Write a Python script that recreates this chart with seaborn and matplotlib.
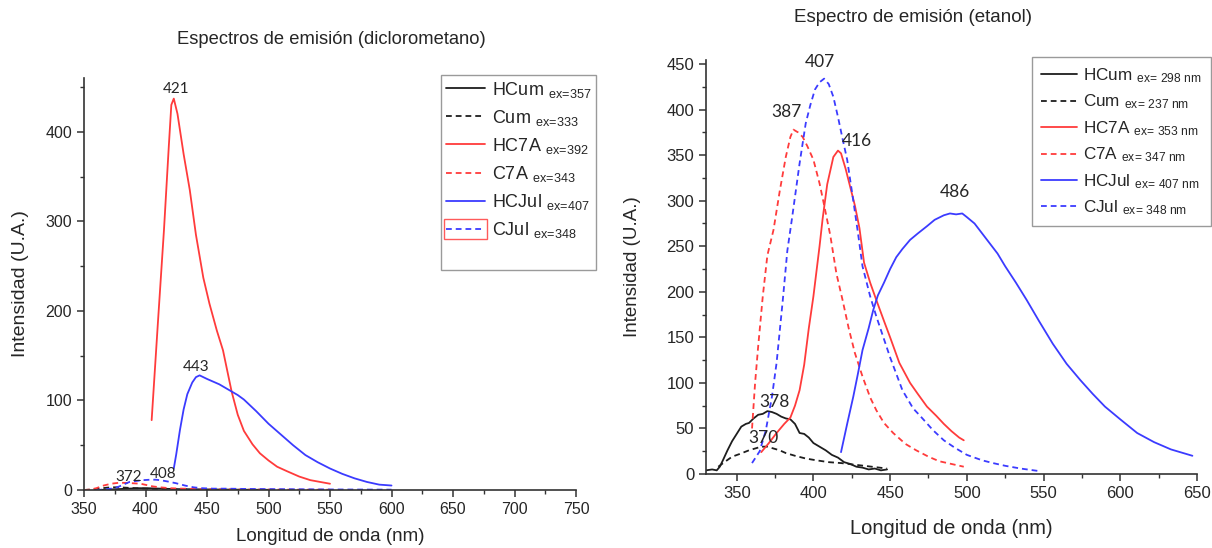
import matplotlib
matplotlib.use("Agg")
import matplotlib.pyplot as plt
import seaborn as sns
from matplotlib.ticker import MultipleLocator
from matplotlib.patches import Rectangle
from matplotlib.lines import Line2D
from matplotlib.transforms import IdentityTransform

# ---------------- data: dichloromethane (left) ----------------
dcm_hcum_x = [362, 370, 378, 386, 394, 402, 412, 425, 440, 460, 480, 500]
dcm_hcum_y = [0, 0.5, 1, 1.5, 2, 2, 1.5, 1, 0.8, 0.5, 0.3, 0.2]
dcm_cum_x = [350, 356, 362, 368, 372, 378, 385, 392, 400, 410, 425, 440, 450]
dcm_cum_y = [0, 0.5, 1.5, 2.5, 3, 3, 2.5, 2, 1.5, 1, 0.6, 0.3, 0.2]
dcm_hc7a_x = [405, 410, 415, 419, 421, 423, 426, 431, 436, 441, 447, 452, 458, 463, 470,
              475, 480, 487, 493, 500, 507, 515, 525, 534, 542, 550]
dcm_hc7a_y = [78, 185, 290, 385, 430, 437, 420, 375, 335, 285, 237, 208, 178, 156, 110,
              84, 66, 51, 41, 33, 26, 21, 15, 11, 9, 7]
dcm_c7a_x = [350, 355, 360, 366, 372, 378, 384, 390, 396, 401, 406, 412, 420, 430, 445,
             460, 480, 500, 525, 550]
dcm_c7a_y = [0, 0.5, 2, 5, 7, 8, 8, 7.5, 7, 5.5, 4, 3, 2, 1.5, 1, 0.8, 0.5, 0.5, 0.3, 0.3]
dcm_hcjul_x = [423, 425, 428, 431, 434, 438, 441, 444, 447, 450, 455, 460, 465, 470, 475,
               480, 490, 500, 510, 520, 530, 540, 550, 560, 570, 580, 590, 600]
dcm_hcjul_y = [24, 40, 67, 90, 107, 120, 126, 128, 126, 124, 121, 118, 114, 110, 106,
               101, 88, 74, 62, 50, 39, 31, 24, 18, 13, 9, 6, 5]
dcm_cjul_x = [360, 366, 372, 377, 382, 387, 392, 398, 404, 408, 412, 418, 425, 432, 439,
              446, 455, 466, 480, 500, 525, 550, 575, 600]
dcm_cjul_y = [0, 0.5, 1.5, 3, 6, 9, 10, 11, 11.5, 11.5, 11, 9.5, 7.5, 5, 3, 2, 1.5, 1.5,
              1.2, 1, 0.8, 0.6, 0.5, 0.4]
dcm_labels = ["HCum", "Cum", "HC7A", "C7A", "HCJul", "CJul"]
dcm_ex = ["357", "333", "392", "343", "407", "348"]
dcm_peak_text = ["421", "443", "372", "408"]
dcm_peak_x = [425, 441, 386, 414.5]
dcm_peak_y = [448, 137, 15, 18]

# ---------------- data: ethanol (right) ----------------
eth_hcum_x = [330, 334, 337, 339, 341, 344, 347, 350, 353, 356, 358, 361, 364, 367, 370,
              373, 376, 379, 382, 385, 388, 391, 394, 397, 400, 404, 408, 412, 416, 420,
              424, 428, 432, 436, 440, 444, 448]
eth_hcum_y = [4, 5, 4, 8, 15, 26, 36, 44, 52, 55, 56, 61, 65, 66, 69, 68, 66, 63, 61, 60,
              55, 45, 44, 40, 34, 30, 26, 21, 18, 13, 11, 8, 7, 5, 6, 4, 5]
eth_cum_x = [338, 342, 347, 352, 358, 362, 366, 370, 374, 378, 382, 388, 395, 402, 410,
             418, 428, 438, 448]
eth_cum_y = [8, 13, 19, 22, 26, 28, 30, 30, 28, 26, 23, 20, 17, 15, 13, 12, 10, 8, 6]
eth_hc7a_x = [366, 371, 376, 381, 385, 388, 391, 394, 397, 400, 404, 406, 409, 413, 416,
              418, 421, 424, 427, 430, 433, 437, 441, 446, 450, 456, 463, 468, 474, 480,
              485, 490, 495, 498]
eth_hc7a_y = [24, 34, 45, 55, 62, 75, 92, 120, 160, 195, 250, 280, 318, 348, 355, 352,
              335, 315, 295, 270, 232, 210, 191, 168, 150, 122, 100, 88, 74, 64, 55, 47,
              40, 37]
eth_c7a_x = [360, 362, 364, 367, 370, 374, 378, 382, 385, 387, 390, 393, 396, 400, 404,
             407, 411, 415, 419, 423, 427, 432, 437, 441, 446, 452, 460, 467, 475, 482,
             490, 498]
eth_c7a_y = [50, 100, 140, 195, 240, 268, 310, 348, 370, 378, 375, 370, 360, 345, 319,
             295, 262, 220, 191, 160, 133, 107, 84, 70, 56, 45, 33, 26, 19, 14, 11, 8]
eth_hcjul_x = [418, 422, 426, 429, 432, 436, 439, 442, 446, 450, 454, 458, 463, 468, 474,
               479, 485, 489, 493, 497, 500, 505, 510, 515, 520, 525, 532, 539, 547, 556,
               565, 574, 582, 590, 600, 611, 622, 633, 641, 647]
eth_hcjul_y = [24, 55, 85, 110, 136, 160, 180, 196, 210, 225, 238, 247, 257, 264, 272,
               279, 284, 286, 285, 286, 282, 275, 264, 253, 242, 228, 210, 191, 168, 143,
               121, 103, 88, 74, 60, 45, 35, 27, 23, 20]
eth_cjul_x = [360, 365, 369, 373, 376, 380, 383, 386, 391, 395, 398, 401, 404, 407, 410,
              413, 416, 419, 422, 426, 429, 432, 437, 441, 446, 450, 458, 465, 470, 478,
              485, 492, 500, 510, 517, 525, 535, 548]
eth_cjul_y = [12, 25, 48, 85, 122, 190, 245, 280, 341, 385, 405, 422, 430, 434, 428, 414,
              392, 368, 345, 300, 265, 228, 195, 173, 148, 128, 92, 72, 63, 48, 37, 29,
              21, 15, 12, 9, 6, 3]
eth_labels = ["HCum", "Cum", "HC7A", "C7A", "HCJul", "CJul"]
eth_ex = ["298", "237", "353", "347", "407", "348"]
eth_peak_text = ["407", "387", "416", "486", "378", "370"]
eth_peak_x = [404, 382.4, 428, 492, 374.8, 367.6]
eth_peak_y = [452, 397, 366, 310, 79, 39]

# ---------------- style ----------------
sns.set_theme(style="ticks")
plt.rcParams["font.family"] = ["Liberation Sans", "DejaVu Sans"]
plt.rcParams["mathtext.fontset"] = "custom"
plt.rcParams["mathtext.rm"] = "Liberation Sans"
plt.rcParams["mathtext.it"] = "Liberation Sans:italic"
plt.rcParams["text.color"] = "#262626"

RED = "#ff3b3b"
BLUE = "#3b3bff"
BLACK = "#1e1e1e"
DASH = (0, (3.2, 2.2))
colors = [BLACK, BLACK, RED, RED, BLUE, BLUE]
styles = ["-", DASH, "-", DASH, "-", DASH]

W, H = 1212, 548
fig = plt.figure(figsize=(W / 100, H / 100), dpi=100)
ax1 = fig.add_axes([84 / W, 1 - 490 / H, (576 - 84) / W, (490 - 78) / H])
ax2 = fig.add_axes([706 / W, 1 - 474 / H, (1197 - 706) / W, (474 - 59.5) / H])

dcm_series = [(dcm_hcum_x, dcm_hcum_y), (dcm_cum_x, dcm_cum_y), (dcm_hc7a_x, dcm_hc7a_y),
              (dcm_c7a_x, dcm_c7a_y), (dcm_hcjul_x, dcm_hcjul_y), (dcm_cjul_x, dcm_cjul_y)]
eth_series = [(eth_hcum_x, eth_hcum_y), (eth_cum_x, eth_cum_y), (eth_hc7a_x, eth_hc7a_y),
              (eth_c7a_x, eth_c7a_y), (eth_hcjul_x, eth_hcjul_y), (eth_cjul_x, eth_cjul_y)]

for ax, series in [(ax1, dcm_series), (ax2, eth_series)]:
    for (xs, ys), c, ls in zip(series, colors, styles):
        sns.lineplot(x=xs, y=ys, ax=ax, color=c, linestyle=ls, lw=1.3,
                     estimator=None, sort=False)

# axes formatting
def style_axes(ax, xlim, ylim, xmaj, ymaj, tick_fs):
    ax.set_xlim(*xlim)
    ax.set_ylim(*ylim)
    ax.xaxis.set_major_locator(MultipleLocator(xmaj))
    ax.xaxis.set_minor_locator(MultipleLocator(xmaj / 2))
    ax.yaxis.set_major_locator(MultipleLocator(ymaj))
    ax.yaxis.set_minor_locator(MultipleLocator(ymaj / 2))
    for s in ["top", "right"]:
        ax.spines[s].set_visible(False)
    for s in ["left", "bottom"]:
        ax.spines[s].set_color("#333333")
        ax.spines[s].set_linewidth(1.2)
    ax.tick_params(which="major", direction="out", length=5, width=1.1,
                   colors="#333333", labelsize=tick_fs, labelcolor="#262626")
    ax.tick_params(which="minor", direction="out", length=3, width=1.0,
                   colors="#333333")
    ax.set_facecolor("white")

style_axes(ax1, (350, 750), (0, 460), 50, 100, 11.5)
style_axes(ax2, (330, 650), (0, 455), 50, 50, 12)

ax1.set_xlabel("Longitud de onda (nm)", fontsize=13.5, labelpad=8)
ax1.set_ylabel("Intensidad (U.A.)", fontsize=14, labelpad=12)
ax2.set_xlabel("Longitud de onda (nm)", fontsize=14.5, labelpad=13)
ax2.set_ylabel("Intensidad (U.A.)", fontsize=13.5, labelpad=18)

fig.text(331 / W, 1 - 40 / H, "Espectros de emisión (diclorometano)", ha="center",
         va="center", fontsize=13.2)
fig.text(913 / W, 1 - 18 / H, "Espectro de emisión (etanol)", ha="center",
         va="center", fontsize=13.5)

# peak annotations
for t, x, y in zip(dcm_peak_text, dcm_peak_x, dcm_peak_y):
    ax1.text(x, y, t, ha="center", va="center", fontsize=11, family="Lato",
             color="#262626")
for t, x, y in zip(eth_peak_text, eth_peak_x, eth_peak_y):
    ax2.text(x, y, t, ha="center", va="center", fontsize=12.5, family="Lato",
             color="#262626", clip_on=False)

# legends
def make_labels(names, exs, nm):
    out = []
    for n, e in zip(names, exs):
        if nm:
            out.append(n + r" $_{\mathrm{ex\!=\!\ " + e + r"\ nm}}$")
        else:
            out.append(n + r" $_{\mathrm{ex\!=\!" + e + r"}}$")
    return out

# left legend has an empty area below its entries in the original
blank = Line2D([], [], color="none")
leg1 = ax1.legend(ax1.get_lines()[:6] + [blank],
                  make_labels(dcm_labels, dcm_ex, False) + [" "],
                  loc="upper left", bbox_to_anchor=((441 - 84) / 492, (490 - 75) / 412),
                  borderaxespad=0, frameon=True, fancybox=False, fontsize=13,
                  handlelength=2.2, handletextpad=0.35, labelspacing=0.45,
                  borderpad=0.25)
leg1.get_frame().set_edgecolor("#9a9a9a")
leg1.get_frame().set_linewidth(1.0)
leg1.get_frame().set_alpha(1)

leg2 = ax2.legend(ax2.get_lines()[:6], make_labels(eth_labels, eth_ex, True),
                  loc="upper left", bbox_to_anchor=((1032 - 706) / 491, (474 - 57) / 414.5),
                  borderaxespad=0, frameon=True, fancybox=False, fontsize=12.3,
                  handlelength=2.1, handletextpad=0.35, labelspacing=0.45,
                  borderpad=0.55)
leg2.get_frame().set_edgecolor("#9a9a9a")
leg2.get_frame().set_linewidth(1.0)
leg2.get_frame().set_alpha(1)

# red selection rectangle around the CJul handle in the left legend
fig.canvas.draw()
h = leg1.legend_handles[5]
bb = h.get_window_extent(fig.canvas.get_renderer())
rect = Rectangle((bb.x0 - 2, bb.y0 - 10), bb.width + 4, bb.height + 20,
                 transform=IdentityTransform(), fill=False, edgecolor="#ff5a5a",
                 lw=1.0)
fig.add_artist(rect)

fig.savefig("out.png", dpi=100, facecolor="white")
